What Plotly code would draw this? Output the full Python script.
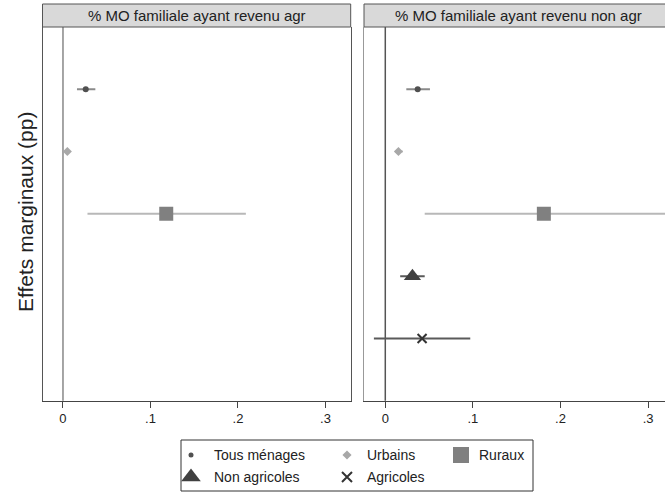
import plotly.graph_objects as go

# ---- data -------------------------------------------------------------
groups = ["Tous ménages", "Urbains", "Ruraux", "Non agricoles", "Agricoles"]
panel_titles = ["% MO familiale ayant revenu agr", "% MO familiale ayant revenu non agr"]

# marginal effects and 95% CI bounds, per panel (None = not estimated)
est_agr = [0.026, 0.005, 0.118, None, None]
low_agr = [0.016, 0.003, 0.028, None, None]
high_agr = [0.037, 0.008, 0.209, None, None]

est_nonagr = [0.037, 0.015, 0.181, 0.031, 0.042]
low_nonagr = [0.024, 0.011, 0.045, 0.017, -0.013]
high_nonagr = [0.051, 0.020, 0.335, 0.045, 0.097]

tick_vals = [0, 0.1, 0.2, 0.3]
tick_text = ["0", ".1", ".2", ".3"]

# ---- styling ----------------------------------------------------------
FONT = "Liberation Sans, Arial, sans-serif"
W, H = 665, 492
styles = {
    "Tous ménages": dict(symbol="circle", size=6, color="#505050", ci="#8a8a8a"),
    "Urbains": dict(symbol="diamond", size=7, color="#a8a8a8", ci="#c4c4c4"),
    "Ruraux": dict(symbol="square", size=14, color="#808080", ci="#b8b8b8"),
    "Non agricoles": dict(symbol="triangle-up", size=15, color="#404040", ci="#5a5a5a"),
    "Agricoles": dict(symbol="x-thin", size=9, color="#333333", ci="#5a5a5a"),
}

def px_x(p):
    return p / W

def px_y(p):
    return 1 - p / H

fig = go.Figure()

panels = [
    ("x", "y", est_agr, low_agr, high_agr),
    ("x2", "y2", est_nonagr, low_nonagr, high_nonagr),
]
for xa, ya, est, low, high in panels:
    for g, e, lo, hi in zip(groups, est, low, high):
        if e is None:
            continue
        s = styles[g]
        line = dict(width=2, color=s["color"]) if s["symbol"] == "x-thin" else dict(width=0)
        fig.add_trace(go.Scatter(
            x=[e], y=[g], xaxis=xa, yaxis=ya, mode="markers", showlegend=False,
            marker=dict(symbol=s["symbol"], size=s["size"], color=s["color"], line=line),
            error_x=dict(type="data", symmetric=False, array=[hi - e], arrayminus=[e - lo],
                         color=s["ci"], thickness=2, width=0),
        ))

# ---- axes -------------------------------------------------------------
left_dom = [px_x(42.5), px_x(350.7)]
right_dom = [px_x(364), 1.0]
y_dom = [px_y(400.7), px_y(27)]

common_x = dict(tickvals=tick_vals, ticktext=tick_text, ticks="outside", ticklen=6,
                tickcolor="#444", tickwidth=1, showline=True, linecolor="#444", linewidth=1,
                showgrid=False, zeroline=False,
                tickfont=dict(family=FONT, size=13, color="#222"))
common_y = dict(categoryorder="array", categoryarray=groups, range=[5, -1],
                showticklabels=False, ticks="", showgrid=False, zeroline=False,
                showline=True, linewidth=1)

fig.update_layout(
    xaxis=dict(domain=left_dom, range=[-0.0234, 0.3288], anchor="y", **common_x),
    yaxis=dict(domain=y_dom, anchor="x", mirror=True, linecolor="#555", **common_y),
    xaxis2=dict(domain=right_dom, range=[-0.0243, 0.3193], anchor="y2", **common_x),
    yaxis2=dict(domain=y_dom, anchor="x2", mirror=False, linecolor="#999", **common_y),
)

shapes = []
# vertical reference line at zero
for xr, yr, col in [("x", "y domain", "#888"), ("x2", "y2 domain", "#555")]:
    shapes.append(dict(type="line", xref=xr, yref=yr, x0=0, x1=0, y0=0, y1=1,
                       line=dict(color=col, width=1.5), layer="below"))

# panel header strips
annotations = []
strips = [(42.5, 350.7, 196.6, panel_titles[0]), (364, 672, 518, panel_titles[1])]
for x0, x1, xc, title in strips:
    shapes.append(dict(type="rect", xref="paper", yref="paper",
                       x0=px_x(x0), x1=px_x(x1), y0=px_y(27), y1=px_y(4),
                       fillcolor="#d9d9d9", line=dict(color="#555", width=1)))
    annotations.append(dict(xref="paper", yref="paper", x=px_x(xc), y=px_y(15.5),
                            text=title, showarrow=False, xanchor="center", yanchor="middle",
                            font=dict(family=FONT, size=15, color="#222")))

# y-axis title
annotations.append(dict(xref="paper", yref="paper", x=px_x(25), y=px_y(212),
                        text="Effets marginaux (pp)", textangle=-90, showarrow=False,
                        xanchor="center", yanchor="middle",
                        font=dict(family=FONT, size=21, color="#222")))

# ---- legend box drawn on its own small axes ---------------------------
leg_x0, leg_x1, leg_y0, leg_y1 = 181, 533, 440, 491
fig.update_layout(
    xaxis3=dict(domain=[px_x(leg_x0), px_x(leg_x1)], range=[leg_x0, leg_x1], visible=False,
                anchor="y3", fixedrange=True),
    yaxis3=dict(domain=[px_y(leg_y1), px_y(leg_y0)], range=[leg_y1, leg_y0], visible=False,
                anchor="x3", fixedrange=True),
)
shapes.append(dict(type="rect", xref="paper", yref="paper",
                   x0=px_x(leg_x0), x1=px_x(leg_x1), y0=px_y(leg_y1), y1=px_y(leg_y0),
                   line=dict(color="#333", width=1), fillcolor="rgba(0,0,0,0)"))

legend_slots = {
    "Tous ménages": (191, 455, 212),
    "Urbains": (347, 455, 365),
    "Ruraux": (461, 455, 477),
    "Non agricoles": (191, 477, 212),
    "Agricoles": (347, 477, 365),
}
legend_sizes = {"Tous ménages": 5, "Urbains": 7, "Ruraux": 16, "Non agricoles": 17, "Agricoles": 10}
for g in groups:
    mx, my, tx = legend_slots[g]
    s = styles[g]
    line = dict(width=2, color=s["color"]) if s["symbol"] == "x-thin" else dict(width=0)
    fig.add_trace(go.Scatter(x=[mx], y=[my], xaxis="x3", yaxis="y3", mode="markers",
                             showlegend=False, hoverinfo="skip",
                             marker=dict(symbol=s["symbol"], size=legend_sizes[g],
                                         color=s["color"], line=line)))
    annotations.append(dict(xref="x3", yref="y3", x=tx, y=my, text=g, showarrow=False,
                            xanchor="left", yanchor="middle",
                            font=dict(family=FONT, size=14, color="#222")))

fig.update_layout(
    width=W, height=H, margin=dict(l=0, r=0, t=0, b=0),
    paper_bgcolor="white", plot_bgcolor="white",
    shapes=shapes, annotations=annotations, showlegend=False,
)

fig.write_html("out.html")
